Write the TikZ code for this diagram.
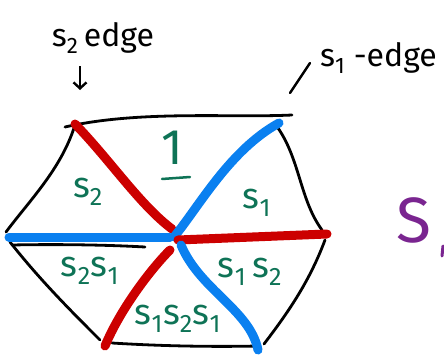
\documentclass[tikz,border=0pt]{standalone}
\usepackage{fontspec}
\setmainfont{Fira Sans}
\usetikzlibrary{arrows.meta}
\definecolor{hred}{HTML}{CC0000}
\definecolor{hblue}{HTML}{0A80F0}
\definecolor{hgreen}{HTML}{0E7356}
\definecolor{hpurple}{HTML}{7A2590}
\tikzset{
  side/.style={line width=2.8pt, black, line cap=round, line join=round},
  redray/.style={line width=9pt, hred, line cap=round},
  blueray/.style={line width=9pt, hblue, line cap=round},
  lab/.style={text=hgreen, font=\fontsize{36}{36}\selectfont, inner sep=0pt},
  note/.style={text=black, font=\fontsize{32}{32}\selectfont, inner sep=0pt},
}
\begin{document}
\begin{tikzpicture}[x=1pt,y=-1pt]
\useasboundingbox (0,0) rectangle (444,361);
% vertices
\coordinate (TL) at (75,124);
\coordinate (TR) at (279,123);
\coordinate (R) at (327,234);
\coordinate (BR) at (258,350);
\coordinate (BL) at (105,346);
\coordinate (L) at (9,237);
\coordinate (C) at (174,237);
% hexagon sides
\draw[side] (65,127) .. controls (140,110) and (230,118) .. (292,115);
\draw[side] (74,128) .. controls (60,170) and (30,200) .. (6,232);
\draw[side] (278,128) .. controls (300,160) and (300,200) .. (322,230);
\draw[side] (10,242) .. controls (40,280) and (70,310) .. (100,340);
\draw[side] (325,240) .. controls (310,280) and (290,310) .. (264,344);
\draw[side] (112,343) .. controls (160,346) and (210,347) .. (258,346);
\draw[side] (12,245) .. controls (60,244) and (110,245) .. (145,247);
% rays
\draw[redray] (TL) .. controls (110,160) and (140,205) .. (172,229);
\draw[blueray] (C) .. controls (200,205) and (230,150) .. (TR);
\draw[blueray] (L) -- (170,237);
\draw[redray] (178,240) -- (R);
\draw[redray] (170,250) .. controls (150,270) and (120,310) .. (BL);
\draw[blueray] (181,245) .. controls (200,290) and (250,310) .. (BR);
% region labels
\node[lab, font=\fontsize{50}{50}\selectfont] (one) at (172,148) {1};
\draw[hgreen, line width=2.5pt, line cap=round] (162,179) -- (190,177);
\node[lab] (ls2) at (88,192) {s\textsubscript{2}};
\node[lab] (ls1) at (257,203) {s\textsubscript{1}};
\node[lab] (ls2s1) at (90,271) {s\textsubscript{2}s\textsubscript{1}};
\node[lab] (ls1s2) at (250,272) {s\textsubscript{1}\,s\textsubscript{2}};
\node[lab] (ls1s2s1) at (178,319) {s\textsubscript{1}s\textsubscript{2}s\textsubscript{1}};
% annotations
\node[note] (e2) at (103,38) {s\textsubscript{2}\,edge};
\coordinate (a1) at (80,66);
\coordinate (a2) at (80,90);
\draw[line width=2.4pt, -{Straight Barb[length=6pt,width=13pt]}] (a1) -- (a2);
\node[note, anchor=west] (e1) at (320,58) {s\textsubscript{1} -edge};
\coordinate (t1) at (290,93);
\coordinate (t2) at (310,63);
\draw[line width=2.4pt, line cap=round] (t1) -- (t2);
% purple S (cut off)
\node[text=hpurple, font=\fontsize{64}{64}\selectfont, inner sep=0pt] (S) at (414,220) {S};
\draw[hpurple, line width=3pt, line cap=round] (443,246) -- (442,256);
\end{tikzpicture}
\end{document}
